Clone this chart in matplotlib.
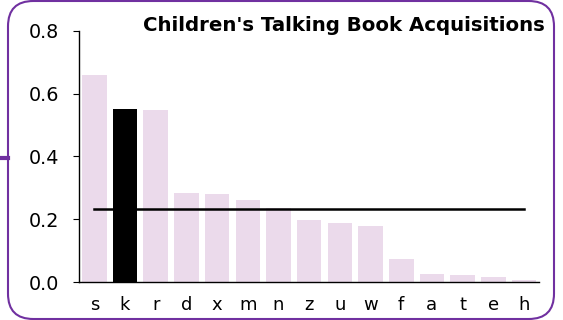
import matplotlib
matplotlib.use("Agg")
import matplotlib.pyplot as plt
from matplotlib.patches import FancyBboxPatch
from matplotlib.lines import Line2D

# share of acquisitions per branch code
branches = ["s", "k", "r", "d", "x", "m", "n", "z", "u", "w", "f", "a", "t", "e", "h"]
shares = [0.659, 0.551, 0.548, 0.284, 0.281, 0.262, 0.235, 0.198, 0.188, 0.180,
          0.074, 0.026, 0.022, 0.016, 0.007]
highlight = "k"
average = 0.234

purple = "#7030A0"
bar_color = "#EBDAEB"

plt.rcParams["font.family"] = ["DejaVu Sans"]

fig = plt.figure(figsize=(5.63, 3.2), dpi=100)
ax = fig.add_axes([0.1403, 0.1178, 0.958 - 0.1403, 0.9041 - 0.1178])

colors = ["black" if b == highlight else bar_color for b in branches]
pos = list(range(len(branches)))
ax.bar(pos, shares, width=0.8, color=colors)
ax.plot([pos[0], pos[-1]], [average, average], color="black", lw=1.8)

ax.set_xlim(-0.5, len(branches) - 0.5)
ax.set_ylim(0, 0.8)
ax.set_xticks(pos)
ax.set_xticklabels(branches)
ax.set_yticks([0.0, 0.2, 0.4, 0.6, 0.8])
ax.set_yticklabels(["0.0", "0.2", "0.4", "0.6", "0.8"])
ax.tick_params(axis="y", length=4.5, width=0.8, pad=10, labelsize=13.8)
ax.tick_params(axis="x", length=0, pad=10, labelsize=13)
for side in ["top", "right"]:
    ax.spines[side].set_visible(False)
for side in ["left", "bottom"]:
    ax.spines[side].set_linewidth(1.0)
ax.spines["left"].set_bounds(0, 0.8)

fig.text(0.968, 0.92, "Children's Talking Book Acquisitions", ha="right",
         va="center", fontsize=14.2, fontweight="bold")

# rounded frame and the little connector on the left
frame = FancyBboxPatch((8 / 563, 1 / 320), 546 / 563, 318 / 320,
                       boxstyle="round,pad=0,rounding_size=0.045",
                       transform=fig.transFigure, fill=False,
                       edgecolor=purple, lw=1.5, mutation_aspect=563 / 320)
fig.patches.append(frame)
fig.lines.append(Line2D([0, 8 / 563], [1 - 158 / 320, 1 - 158 / 320],
                        transform=fig.transFigure, color=purple, lw=3))

fig.savefig("out.png", dpi=100)
